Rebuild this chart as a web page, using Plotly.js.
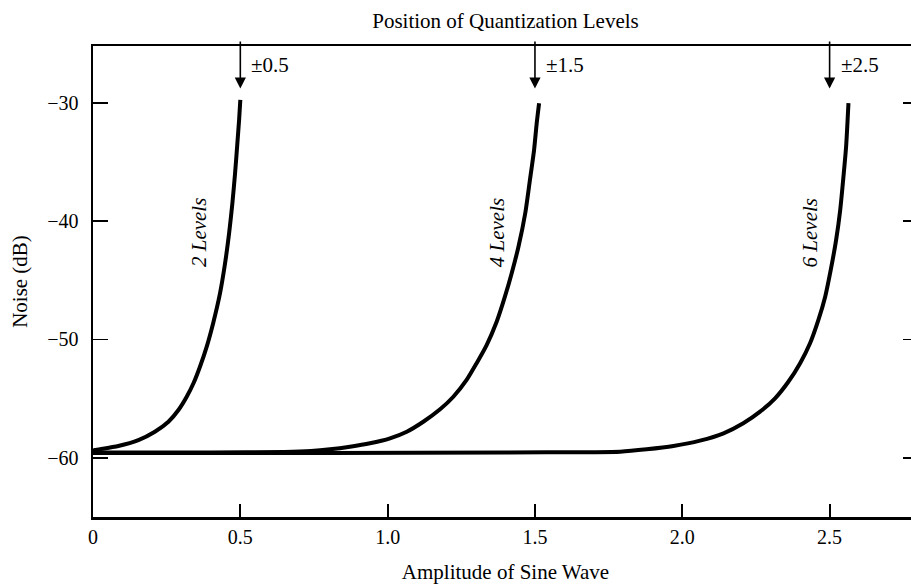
<!DOCTYPE html>
<html>
<head>
<meta charset="utf-8">
<script src="https://cdn.plot.ly/plotly-3.0.1.min.js"></script>
<style>
  html, body { margin: 0; padding: 0; overflow: hidden; background: #fff; }
  #chart { width: 928px; height: 585px; }
</style>
</head>
<body>
<div id="chart"></div>
<script>
// Quantization noise versus sine-wave amplitude for 2, 4 and 6 levels
const amp2 = [0, 0.0068, 0.086, 0.154, 0.21, 0.256, 0.29, 0.318, 0.341, 0.363, 0.386, 0.408, 0.431, 0.448, 0.462, 0.473, 0.482, 0.49, 0.496, 0.5];
const noise2 = [-59.38, -59.34, -59.0, -58.5, -57.79, -56.95, -55.96, -54.84, -53.7, -52.3, -50.6, -48.6, -46.1, -43.6, -41.0, -38.5, -36.0, -33.4, -31.4, -29.75];

const amp4 = [0, 0.4, 0.65, 0.74, 0.8045, 0.872, 0.94, 1.008, 1.065, 1.121, 1.178, 1.223, 1.268, 1.302, 1.336, 1.37, 1.398, 1.421, 1.444, 1.467, 1.483, 1.497, 1.506, 1.514];
const noise4 = [-59.55, -59.55, -59.5, -59.42, -59.28, -59.06, -58.77, -58.35, -57.79, -56.95, -55.9, -54.84, -53.42, -52.0, -50.47, -48.5, -46.38, -44.4, -42.16, -39.33, -36.5, -33.98, -31.7, -30.03];

const amp6 = [0, 0.8, 1.4, 1.7, 1.789, 1.879, 1.97, 2.06, 2.14, 2.207, 2.264, 2.315, 2.36, 2.4, 2.434, 2.462, 2.485, 2.504, 2.522, 2.536, 2.547, 2.556, 2.564];
const noise6 = [-59.6, -59.6, -59.55, -59.52, -59.48, -59.28, -59.0, -58.55, -57.93, -57.08, -56.1, -54.97, -53.57, -52.0, -50.3, -48.35, -46.38, -44.1, -41.6, -39.05, -36.24, -33.7, -30.03];

// Quantization level positions marked along the top edge
const levelPositions = [0.5, 1.5, 2.5];
const levelLabels = ['±0.5', '±1.5', '±2.5'];

// Curve labels
const curveNames = ['2 Levels', '4 Levels', '6 Levels'];
const curveLabelX = [0.36, 1.372, 2.435];
const curveLabelY = -41.0;

const xTicks = [0, 0.5, 1.0, 1.5, 2.0, 2.5];
const xTickText = ['0', '0.5', '1.0', '1.5', '2.0', '2.5'];
const yTicks = [-30, -40, -50, -60];

const FONT = '"Liberation Serif", "Times New Roman", serif';

const lineStyle = { color: '#000', width: 4, shape: 'spline', smoothing: 0.6 };
const traces = [
  { x: amp2, y: noise2, mode: 'lines', line: lineStyle, name: curveNames[0], hoverinfo: 'skip' },
  { x: amp4, y: noise4, mode: 'lines', line: lineStyle, name: curveNames[1], hoverinfo: 'skip' },
  { x: amp6, y: noise6, mode: 'lines', line: lineStyle, name: curveNames[2], hoverinfo: 'skip' }
];

const annotations = [];
levelPositions.forEach((p, i) => {
  annotations.push({
    x: p, y: -28.8, xref: 'x', yref: 'y',
    ax: p, ay: -24.7, axref: 'x', ayref: 'y',
    showarrow: true, arrowhead: 2, arrowsize: 1.4, arrowwidth: 1.6,
    arrowcolor: '#000', text: ''
  });
  annotations.push({
    x: p, y: -26.8, xref: 'x', yref: 'y',
    text: levelLabels[i], showarrow: false,
    xanchor: 'left', yanchor: 'middle', xshift: 9,
    font: { family: FONT, size: 21, color: '#000' }
  });
});
curveNames.forEach((name, i) => {
  annotations.push({
    x: curveLabelX[i], y: curveLabelY, xref: 'x', yref: 'y',
    text: '<i>' + name + '</i>', showarrow: false, textangle: -90,
    xanchor: 'center', yanchor: 'middle',
    font: { family: FONT, size: 21, color: '#000' }
  });
});

const layout = {
  width: 928, height: 585,
  margin: { l: 93, r: 10, t: 46, b: 68 },
  paper_bgcolor: '#fff', plot_bgcolor: '#fff',
  showlegend: false,
  font: { family: FONT, size: 20, color: '#000' },
  title: {
    text: 'Position of Quantization Levels',
    font: { family: FONT, size: 21, color: '#000' },
    x: 0.5, xref: 'paper', xanchor: 'center',
    y: 1 - 21 / 585, yref: 'container', yanchor: 'middle'
  },
  xaxis: {
    range: [0, 2.8], tickvals: xTicks, ticktext: xTickText,
    showgrid: false, zeroline: false,
    showline: true, linecolor: '#000', linewidth: 2.5, mirror: true,
    ticks: 'inside', ticklen: 13, tickwidth: 1.8, tickcolor: '#000',
    ticklabelstandoff: 0,
    tickfont: { family: FONT, size: 20, color: '#000' },
    title: { text: 'Amplitude of Sine Wave', standoff: 18, font: { family: FONT, size: 21, color: '#000' } }
  },
  yaxis: {
    range: [-65, -25.2], tickvals: yTicks,
    showgrid: false, zeroline: false,
    showline: true, linecolor: '#000', linewidth: 2.5, mirror: 'ticks',
    ticks: 'inside', ticklen: 15, tickwidth: 1.8, tickcolor: '#000',
    ticklabelstandoff: 8,
    tickfont: { family: FONT, size: 20, color: '#000' },
    title: { text: 'Noise (dB)', standoff: 14, font: { family: FONT, size: 21, color: '#000' } }
  },
  annotations: annotations
};

Plotly.newPlot('chart', traces, layout, { displayModeBar: false, staticPlot: true });
</script>
</body>
</html>
